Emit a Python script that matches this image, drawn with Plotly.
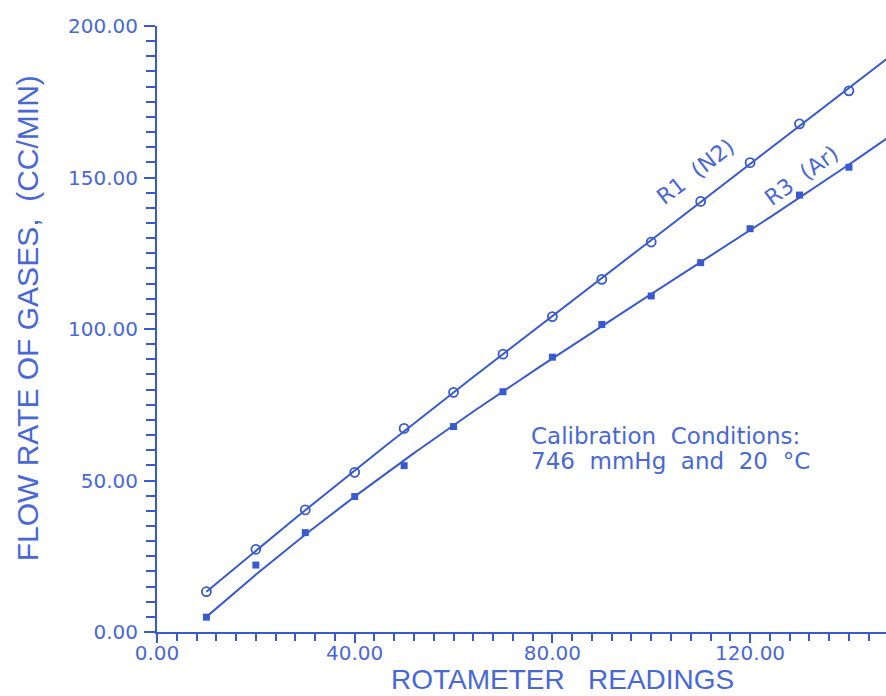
import numpy as np
import plotly.graph_objects as go

# ---- data ----
readings = [10, 20, 30, 40, 50, 60, 70, 80, 90, 100, 110, 120, 130, 140]
r1_n2 = [13.3, 27.3, 40.3, 52.7, 67.2, 79.1, 91.7, 104.1, 116.4, 128.7, 142.1, 154.9, 167.7, 178.6]
r3_ar = [4.9, 22.1, 32.8, 44.7, 54.9, 67.8, 79.3, 90.7, 101.5, 110.9, 121.9, 133.1, 144.2, 153.4]
x_tick_vals = [0, 40, 80, 120]
x_tick_text = ["0.00", "40.00", "80.00", "120.00"]
y_tick_vals = [0, 50, 100, 150, 200]
y_tick_text = ["0.00", "50.00", "100.00", "150.00", "200.00"]

BLUE = "#3859cf"
TBLUE = "#4768d6"
X_MAX = 147.5

fig = go.Figure()

# fitted calibration curves (cubic least squares, anchored at the first reading)
xs = np.linspace(readings[0], X_MAX + 2, 300)
weights = [5] + [1] * (len(readings) - 1)
for ys in (r1_n2, r3_ar):
    c = np.polyfit(readings, ys, 3, w=weights)
    fig.add_trace(go.Scatter(x=xs, y=np.polyval(c, xs), mode="lines",
                             line=dict(color=BLUE, width=2),
                             hoverinfo="skip", showlegend=False))

fig.add_trace(go.Scatter(x=readings, y=r1_n2, mode="markers", name="R1 (N2)",
                         marker=dict(symbol="circle-open", size=9, color=BLUE,
                                     line=dict(width=1.8, color=BLUE)),
                         showlegend=False))
fig.add_trace(go.Scatter(x=readings, y=r3_ar, mode="markers", name="R3 (Ar)",
                         marker=dict(symbol="square", size=7, color=BLUE),
                         showlegend=False))

fig.update_layout(
    width=886, height=696,
    margin=dict(l=157, r=0, t=26, b=64),
    paper_bgcolor="white", plot_bgcolor="white",
    font=dict(family="DejaVu Sans", color=TBLUE),
    xaxis=dict(range=[0, X_MAX], showgrid=False, zeroline=False,
               showline=True, linecolor=BLUE, linewidth=2,
               ticks="outside", ticklen=9, tickwidth=2, tickcolor=BLUE,
               tickvals=x_tick_vals, ticktext=x_tick_text,
               tickfont=dict(size=20, color=TBLUE, family="DejaVu Sans"),
               ticklabelstandoff=-7,
               minor=dict(dtick=4, tick0=0, ticks="outside", ticklen=7,
                          tickwidth=2, tickcolor=BLUE, showgrid=False)),
    yaxis=dict(range=[0, 200], showgrid=False, zeroline=False,
               showline=True, linecolor=BLUE, linewidth=2,
               ticks="outside", ticklen=11, tickwidth=2, tickcolor=BLUE,
               tickvals=y_tick_vals, ticktext=y_tick_text,
               tickfont=dict(size=20, color=TBLUE, family="DejaVu Sans"),
               ticklabelstandoff=2,
               minor=dict(dtick=5, tick0=0, ticks="outside", ticklen=9,
                          tickwidth=2, tickcolor=BLUE, showgrid=False)),
)

ann_font = dict(family="DejaVu Sans", size=22, color=TBLUE)
cal_font = dict(family="DejaVu Sans", size=23, color=TBLUE)
title_font = dict(family="Liberation Sans", size=30, color=TBLUE)

fig.add_annotation(xref="paper", yref="paper", x=-0.178, y=0.518,
                   text="FLOW RATE OF GASES,\u00a0\u00a0(CC/MIN)", textangle=-90,
                   showarrow=False, font=title_font, xanchor="center", yanchor="middle")
fig.add_annotation(xref="paper", yref="paper", x=0.556, y=-0.079,
                   text="ROTAMETER\u00a0\u00a0\u00a0READINGS",
                   showarrow=False, font=dict(family="Liberation Sans", size=28, color=TBLUE),
                   xanchor="center", yanchor="middle")

fig.add_annotation(x=109, y=152, text="R1\u00a0\u00a0(N2)", textangle=-38,
                   showarrow=False, font=ann_font, xanchor="center", yanchor="middle")
fig.add_annotation(x=130.4, y=150.8, text="R3\u00a0\u00a0(Ar)", textangle=-36,
                   showarrow=False, font=ann_font, xanchor="center", yanchor="middle")
fig.add_annotation(x=75.2, y=64.8, text="Calibration\u00a0\u00a0Conditions:",
                   showarrow=False, font=cal_font, xanchor="left", yanchor="middle")
fig.add_annotation(x=75.2, y=56.6,
                   text="746\u00a0\u00a0mmHg\u00a0\u00a0and\u00a0\u00a020\u00a0\u00a0\u00b0C",
                   showarrow=False, font=cal_font, xanchor="left", yanchor="middle")

fig.write_html("out.html")
